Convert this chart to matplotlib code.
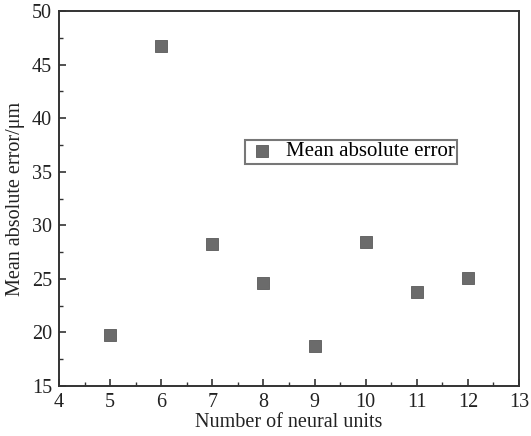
import matplotlib
matplotlib.use('Agg')
import matplotlib.pyplot as plt
from matplotlib.ticker import MultipleLocator

# values
units = [5, 6, 7, 8, 9, 10, 11, 12]
mae = [19.8, 46.7, 28.25, 24.6, 18.7, 28.4, 23.8, 25.1]

plt.rcParams['font.family'] = ['Liberation Serif', 'DejaVu Serif']
plt.rcParams['mathtext.fontset'] = 'stix'


def plot_data():
    fig = plt.figure(figsize=(5.31, 4.36), dpi=100)
    ax = fig.add_axes([59 / 531, 1 - 386 / 436, 460 / 531, 375 / 436])

    ax.scatter(units, mae, marker='s', s=70, color='#6b6b6b',
               edgecolors='#5a5a5a', linewidths=0.6,
               label='Mean absolute error', zorder=3)

    ax.set_xlim(4, 13)
    ax.set_ylim(15, 50)
    ax.xaxis.set_major_locator(MultipleLocator(1))
    ax.xaxis.set_minor_locator(MultipleLocator(0.5))
    ax.yaxis.set_major_locator(MultipleLocator(5))
    ax.yaxis.set_minor_locator(MultipleLocator(2.5))

    for s in ax.spines.values():
        s.set_linewidth(1.4)
        s.set_color('#333333')
    ax.tick_params(which='both', direction='in', top=False, right=False,
                   color='#333333', labelsize=14.5, labelcolor='#222222')
    ax.tick_params(which='major', length=5, width=1.2, pad=5)
    ax.tick_params(which='minor', length=3, width=1.0)

    ax.set_xlabel('Number of neural units', fontsize=14.5, color='#222222', labelpad=1)
    ax.set_ylabel('Mean absolute error/μm', fontsize=14.5, color='#222222', labelpad=5)

    leg = ax.legend(loc='center', bbox_to_anchor=(0.635, 0.625), fontsize=15,
                    fancybox=False, framealpha=1, edgecolor='#777777',
                    handletextpad=0.4, borderpad=0.1, borderaxespad=0,
                    handlelength=1.5)
    leg.get_frame().set_linewidth(1.5)

    fig.savefig('out.png', dpi=100)


def main():
    plot_data()


if __name__ == "__main__":
    main()
